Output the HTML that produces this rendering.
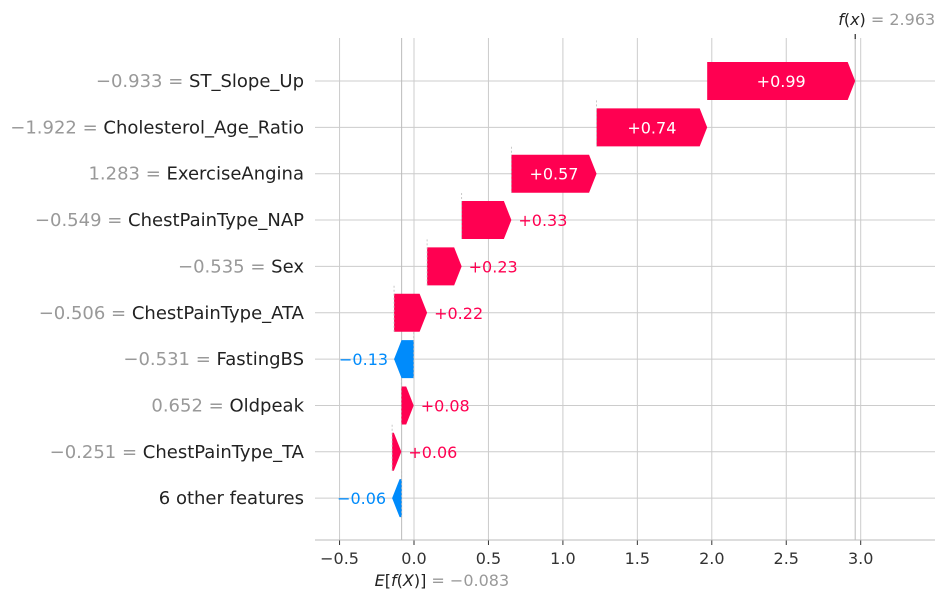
<!DOCTYPE html>
<html><head><meta charset="utf-8"><style>
body{margin:0;background:#fff}
svg text{font-family:"DejaVu Sans","Liberation Sans",sans-serif}
</style></head><body>
<svg id="chart" width="950" height="600" viewBox="0 0 950 600" xmlns="http://www.w3.org/2000/svg"></svg>
<script>
const featureValues = ["\u22120.933","\u22121.922","1.283","\u22120.549","\u22120.535","\u22120.506","\u22120.531","0.652","\u22120.251",""];
const featureNames = ["ST_Slope_Up","Cholesterol_Age_Ratio","ExerciseAngina","ChestPainType_NAP","Sex","ChestPainType_ATA","FastingBS","Oldpeak","ChestPainType_TA","6 other features"];
const shapValues = [0.994,0.743,0.572,0.334,0.232,0.222,-0.132,0.083,0.062,-0.064];
const shapLabels = ["+0.99","+0.74","+0.57","+0.33","+0.23","+0.22","\u22120.13","+0.08","+0.06","\u22120.06"];
const baseValue = -0.083;
const fxValue = 2.963;
const xTicks = [-0.5,0,0.5,1,1.5,2,2.5,3];
const xTickLabels = ["\u22120.5","0.0","0.5","1.0","1.5","2.0","2.5","3.0"];

const svg = document.getElementById('chart');
const NS = "http://www.w3.org/2000/svg";
const x = v => 414 + v * 148.9;
const rowY = i => 81 + i * 46.35;
const plotL = 315, plotR = 935, plotT = 38, plotB = 540;
function mk(tag, attrs, parent){const e=document.createElementNS(NS,tag);for(const k in attrs)e.setAttribute(k,attrs[k]);(parent||svg).appendChild(e);return e;}

featureNames.forEach((n,i)=>{
  const l = mk('line',{x1:plotL,x2:plotR,y1:rowY(i),y2:rowY(i),stroke:'#cccccc','stroke-width':1});
  
  
});
xTicks.forEach((t,i)=>{
  const l = mk('line',{x1:x(t),x2:x(t),y1:plotT,y2:plotB,stroke:'#cccccc','stroke-width':1});
  
  
  const tk = mk('line',{x1:x(t),x2:x(t),y1:plotB,y2:plotB+5,stroke:'#333','stroke-width':1});
  
  
  const tx = mk('text',{x:x(t),y:plotB+24,'text-anchor':'middle','font-size':16,fill:'#333'});
  tx.textContent = xTickLabels[i];
  
  
});
[[baseValue,'base-value-line'],[fxValue,'fx-line']].forEach(([v,n])=>{
  const l = mk('line',{x1:x(v),x2:x(v),y1:plotT,y2:plotB,stroke:'#bbbbbb','stroke-width':1});
  
  
});
const ax = mk('line',{x1:plotL,x2:plotR,y1:plotB,y2:plotB,stroke:'#bbbbbb','stroke-width':1});


const fxt = mk('line',{x1:x(fxValue),x2:x(fxValue),y1:34,y2:39,stroke:'#000','stroke-width':1});



let cum = baseValue;
const starts = [], ends = [];
for(let i=featureNames.length-1;i>=0;i--){starts[i]=cum;cum+=shapValues[i];ends[i]=cum;}
const h = 38, head = 7.5;
featureNames.forEach((n,i)=>{
  const s = x(starts[i]), e = x(ends[i]), yc = rowY(i), pos = shapValues[i] >= 0;
  const col = pos ? '#ff0051' : '#008bfb';
  const w = Math.abs(e - s);
  const hd = Math.min(head, w);
  const dir = pos ? 1 : -1;
  const bodyEnd = e - dir*hd;
  const pts = [[s,yc-h/2],[bodyEnd,yc-h/2],[e,yc],[bodyEnd,yc+h/2],[s,yc+h/2]].map(p=>p.join(',')).join(' ');
  const p = mk('polygon',{points:pts,fill:col});
  
  
  if(i>0){
    const c = mk('line',{x1:s,x2:s,y1:yc-h/2-8,y2:yc+h/2,stroke:'#bbbbbb','stroke-width':0.8,'stroke-dasharray':'2,2'});
    
    
  }
  const inside = w > 70;
  const t = mk('text',{'font-size':16,y:yc+6});
  if(inside){t.setAttribute('x',(s+e)/2);t.setAttribute('text-anchor','middle');t.setAttribute('fill','#fff');}
  else if(pos){t.setAttribute('x',e+7);t.setAttribute('text-anchor','start');t.setAttribute('fill',col);}
  else{t.setAttribute('x',e-6);t.setAttribute('text-anchor','end');t.setAttribute('fill',col);}
  t.textContent = shapLabels[i];
  
  
  const fl = mk('text',{x:304,y:yc+6,'text-anchor':'end','font-size':18,fill:'#222'});
  if(featureValues[i]){
    const a = mk('tspan',{fill:'#999'},fl); a.textContent = featureValues[i]+' = ';
    
    
  }
  const b = mk('tspan',{fill:'#222'},fl); b.textContent = n;
  
  
  
  
});
const ft = mk('text',{x:x(fxValue)+80,y:25,'text-anchor':'end','font-size':16,fill:'#999'});
ft.innerHTML = '<tspan fill="#222" font-style="italic">f</tspan><tspan fill="#222">(</tspan><tspan fill="#222" font-style="italic">x</tspan><tspan fill="#222">)</tspan> = 2.963';


const et = mk('text',{x:x(baseValue)-27,y:586,'text-anchor':'start','font-size':16,fill:'#999'});
et.innerHTML = '<tspan fill="#222" font-style="italic">E</tspan><tspan fill="#222">[</tspan><tspan fill="#222" font-style="italic">f</tspan><tspan fill="#222">(</tspan><tspan fill="#222" font-style="italic">X</tspan><tspan fill="#222">)]</tspan> = \u22120.083';


</script>
</body></html>
